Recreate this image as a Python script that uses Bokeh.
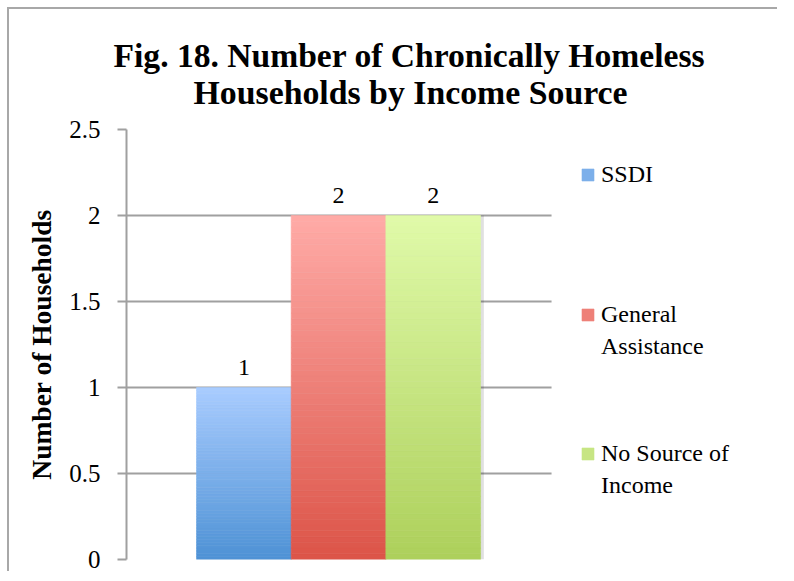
from bokeh.plotting import figure
from bokeh.models import Range1d, FixedTicker, Legend, LegendItem, Title, ColumnDataSource, BoxAnnotation
from bokeh.embed import file_html
from bokeh.resources import INLINE
from bokeh.core.properties import value

# ---- data ----
series = ["SSDI", "General Assistance", "No Source of Income"]
legend_lines = [["SSDI"], ["General", "Assistance"], ["No Source of", "Income"]]
counts = [1, 2, 2]
y_ticks = [0, 0.5, 1, 1.5, 2, 2.5]
y_tick_labels = ["0", "0.5", "1", "1.5", "2", "2.5"]
title_lines = ["Fig. 18. Number of Chronically Homeless", "Households by Income Source"]
y_label = "Number of Households"

# ---- styles ----
top_colors = ["#a9ccff", "#ffaba7", "#e0faa9"]
bottom_colors = ["#4e92d5", "#dc5448", "#add05b"]
FONT = "Liberation Serif"
GRID = "#a0a0a0"
N = 60


def hex_to_rgb(h):
    h = h.lstrip("#")
    return tuple(int(h[i:i + 2], 16) for i in (0, 2, 4))


def mix(c1, c2, t):
    a, b = hex_to_rgb(c1), hex_to_rgb(c2)
    return "#%02x%02x%02x" % tuple(round(a[k] + (b[k] - a[k]) * t) for k in range(3))


PLOT_END = 3.74  # right edge of the plotting area (data units)
p = figure(width=770, height=564, output_backend="svg", toolbar_location=None,
           x_range=Range1d(-0.74, 6.158), y_range=Range1d(0, 2.5),
           x_axis_location=None, min_border_left=117, min_border_right=0,
           min_border_top=120, min_border_bottom=14)
# chart border on the left and top (drawn outside the plot box, no layout change)
p.styles = {"margin-left": "9px", "margin-top": "9px",
            "box-shadow": "-2px -2px 0px 0px #a8a8a8"}
p.outline_line_color = None
p.xgrid.visible = False
p.ygrid.grid_line_color = GRID
p.ygrid.grid_line_width = 2
p.ygrid.ticker = FixedTicker(ticks=y_ticks)

ax = p.yaxis[0]
ax.ticker = FixedTicker(ticks=y_ticks)
ax.major_label_overrides = {t: l for t, l in zip(y_ticks, y_tick_labels)}
ax.axis_line_color = GRID
ax.axis_line_width = 2
ax.major_tick_line_color = GRID
ax.major_tick_line_width = 2
ax.major_tick_out = 9
ax.major_tick_in = 0
ax.minor_tick_line_color = None
ax.major_label_standoff = 17
ax.major_label_text_font = FONT
ax.major_label_text_font_size = "25px"
ax.major_label_text_color = "black"
ax.axis_label = y_label
ax.axis_label_text_font = FONT
ax.axis_label_text_font_size = "27.5px"
ax.axis_label_text_font_style = "bold"
ax.axis_label_text_color = "black"
ax.axis_label_standoff = 9

# titles: spacer nearest the frame, then line 2, then line 1
p.add_layout(Title(text=" ", text_font_size="1px", standoff=16), "above")
p.add_layout(Title(text=title_lines[1], align="left", offset=67, text_font=FONT,
                   text_font_size="33.8px", text_font_style="bold", text_color="black",
                   standoff=0), "above")
p.add_layout(Title(text=title_lines[0], align="left", offset=-13, text_font=FONT,
                   text_font_size="33.6px", text_font_style="bold", text_color="black",
                   standoff=-5), "above")

xs = [i + 0.5 for i in range(len(series))]

# soft shadow
p.vbar(x=[x + 0.035 for x in xs], width=1, bottom=0, top=counts, fill_color="#000000",
       fill_alpha=0.12, line_color=None)

renderers = []
for i, (x, c) in enumerate(zip(xs, counts)):
    bottoms = [c * k / N for k in range(N)]
    tops = [c * (k + 1) / N for k in range(N)]
    cols = [mix(bottom_colors[i], top_colors[i], (k + 0.5) / N) for k in range(N)]
    src = ColumnDataSource(dict(x=[x] * N, bottom=bottoms, top=tops, color=cols))
    r = p.vbar(x="x", width=1, bottom="bottom", top="top", fill_color="color",
               line_color="color", line_width=0.6, source=src)
    renderers.append(r)

p.text(x=xs, y=counts, text=[str(c) for c in counts], text_align="center",
       text_baseline="alphabetic", y_offset=-20, text_font=value(FONT),
       text_font_size="24px", text_color="black")

# white area that holds the legend (hides grid lines right of the plot area)
p.add_layout(BoxAnnotation(left=PLOT_END + 0.01, fill_color="white", fill_alpha=1,
                           line_color=None))

# invisible swatch for continuation lines of the legend labels
blank = p.vbar(x=[], top=[], width=1, fill_alpha=0, line_alpha=0)

legend_tops = [403, 263, 124]  # px above frame bottom (legend top)
for i in range(len(series)):
    items = [LegendItem(label=legend_lines[i][0], renderers=[renderers[i]], index=N // 2)]
    for extra in legend_lines[i][1:]:
        items.append(LegendItem(label=extra, renderers=[blank]))
    lg = Legend(items=items, location=(454, legend_tops[i] - 32 * len(items)),
                border_line_color=None, background_fill_alpha=0,
                padding=0, margin=0, spacing=5, glyph_width=15, glyph_height=15,
                label_standoff=6, label_height=27,
                label_text_font=FONT, label_text_font_size="24px", label_text_color="black")
    p.add_layout(lg, "center")

open("out.html", "w").write(file_html(p, INLINE))
